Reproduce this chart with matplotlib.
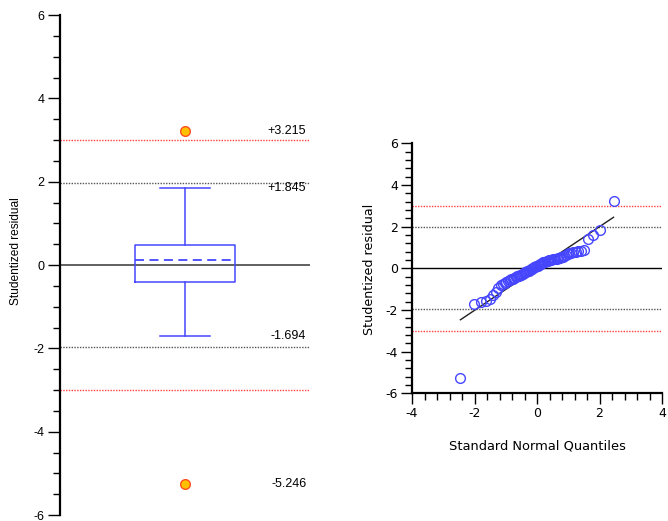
import matplotlib
matplotlib.use("Agg")
import matplotlib.pyplot as plt
from matplotlib.ticker import MultipleLocator
from statistics import NormalDist

plt.rcParams['axes.unicode_minus'] = False

# ---- data ----
residuals = [
    -5.246, -1.694, -1.62, -1.55, -1.45, -1.30, -1.15, -0.95, -0.82, -0.76,
    -0.70, -0.65, -0.61, -0.57, -0.53, -0.50, -0.46, -0.42, -0.39, -0.36,
    -0.33, -0.30, -0.27, -0.24, -0.20, -0.17, -0.14, -0.11, -0.08, -0.04,
    -0.01, 0.02, 0.05, 0.08, 0.11, 0.13, 0.16, 0.19, 0.22, 0.25,
    0.28, 0.30, 0.32, 0.34, 0.36, 0.38, 0.40, 0.42, 0.43, 0.45,
    0.46, 0.47, 0.48, 0.50, 0.53, 0.56, 0.60, 0.64, 0.68, 0.72,
    0.75, 0.78, 0.80, 0.83, 0.85, 0.88, 1.40, 1.58, 1.845, 3.215,
]
box_q1, box_med, box_q3 = -0.41, 0.12, 0.48
whisker_lo, whisker_hi = -1.694, 1.845
outliers = [3.215, -5.246]
value_labels = ["+3.215", "+1.845", "-1.694", "-5.246"]
value_label_pos = [3.215, 1.845, -1.694, -5.246]
warn_limits = [1.96, -1.96]
action_limits = [3.0, -3.0]
fit_x = [-2.45, 2.45]
fit_y = [-2.47, 2.45]

n = len(residuals)
quantiles = [NormalDist().inv_cdf((i + 0.5) / n) for i in range(n)]

W, H = 668, 521
fig = plt.figure(figsize=(W / 100, H / 100), dpi=100)

BLUE = '#4646ff'
RED = '#ff4040'
GRAY = '#606060'

# ---- left: box plot ----
ax1 = fig.add_axes([60 / W, 1 - 515 / H, 250 / W, 500 / H])
ax1.set_xlim(0, 1)
ax1.set_ylim(-6, 6)
for s in ['top', 'right', 'bottom']:
    ax1.spines[s].set_visible(False)
ax1.spines['left'].set_linewidth(1.6)
ax1.set_xticks([])
ax1.yaxis.set_major_locator(MultipleLocator(2))
ax1.yaxis.set_minor_locator(MultipleLocator(0.5))
ax1.tick_params(axis='y', which='major', length=9, width=1, labelsize=9, pad=2)
ax1.tick_params(axis='y', which='minor', length=5, width=1)
for lab in ax1.get_yticklabels():
    lab.set_family('Liberation Sans')

ax1.axhline(0, color=GRAY, lw=1.4, zorder=1)
for v in warn_limits:
    ax1.axhline(v, color='#555555', lw=1, ls=(0, (1, 1)), zorder=1)
for v in action_limits:
    ax1.axhline(v, color=RED, lw=1, ls=(0, (1, 1)), zorder=1)

stats = [dict(q1=box_q1, med=box_med, q3=box_q3, whislo=whisker_lo,
              whishi=whisker_hi, fliers=[], label='')]
ax1.bxp(stats, positions=[0.5], widths=0.4, capwidths=0.2, showfliers=False,
        boxprops=dict(color=BLUE, lw=1.1),
        whiskerprops=dict(color=BLUE, lw=1.1),
        capprops=dict(color=BLUE, lw=1.1),
        medianprops=dict(color=BLUE, lw=1.3, ls=(0, (5, 3))),
        manage_ticks=False)
ax1.plot([0.5] * len(outliers), outliers, 'o', ms=7, mfc='#ffc000',
         mec='#ff5020', mew=1, zorder=5)
for txt, v in zip(value_labels, value_label_pos):
    ax1.text(0.985, v, txt, ha='right', va='center', fontsize=9,
             family='Liberation Sans')
ax1.set_ylabel("Studentized residual", fontsize=8.6, family='Liberation Sans')
ax1.yaxis.set_label_coords(-0.152, 0.527)

# ---- right: normal probability plot ----
ax2 = fig.add_axes([412 / W, 1 - 393.3 / H, 250 / W, 250 / H])
ax2.set_xlim(-4, 4)
ax2.set_ylim(-6, 6)
for s in ['top', 'right']:
    ax2.spines[s].set_visible(False)
ax2.spines['left'].set_linewidth(1.6)
ax2.spines['bottom'].set_linewidth(1.6)
ax2.xaxis.set_major_locator(MultipleLocator(2))
ax2.xaxis.set_minor_locator(MultipleLocator(0.4))
ax2.yaxis.set_major_locator(MultipleLocator(2))
ax2.yaxis.set_minor_locator(MultipleLocator(0.4))
ax2.tick_params(which='major', length=8, width=1, labelsize=9, pad=2)
ax2.tick_params(which='minor', length=5, width=1)

ax2.axhline(0, color='black', lw=1, zorder=1)
for v in warn_limits:
    ax2.axhline(v, color='#555555', lw=1, ls=(0, (1, 1)), zorder=1)
for v in action_limits:
    ax2.axhline(v, color=RED, lw=1, ls=(0, (1, 1)), zorder=1)
ax2.plot(fit_x, fit_y, color='#202020', lw=1, zorder=2)
ax2.plot(quantiles, residuals, 'o', ms=7, mfc='none', mec=BLUE, mew=1, zorder=3)
ax2.set_xlabel("Standard Normal Quantiles", fontsize=9.4, labelpad=14)
ax2.set_ylabel("Studentized residual", fontsize=9.1)
ax2.yaxis.set_label_coords(-0.144, 0.497)

fig.savefig("out.png", dpi=100)
